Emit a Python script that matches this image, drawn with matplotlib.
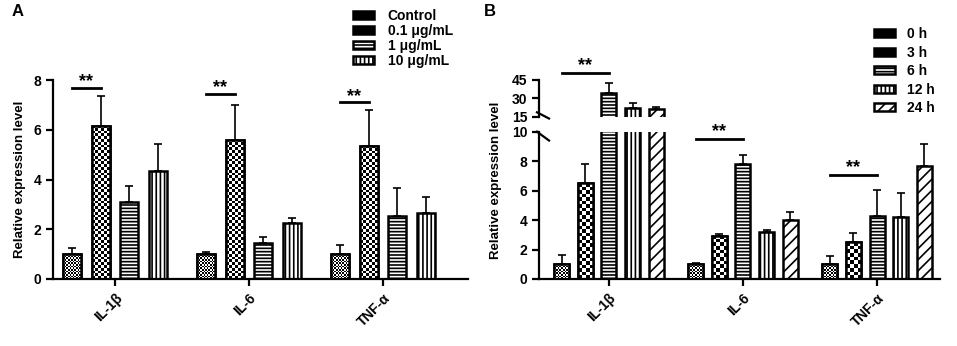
import matplotlib
matplotlib.use("Agg")
import matplotlib.pyplot as plt
import numpy as np
from matplotlib.patches import Rectangle

plt.rcParams['font.family'] = ['Liberation Sans', 'DejaVu Sans']
plt.rcParams['font.weight'] = 'bold'
plt.rcParams['hatch.linewidth'] = 1.2

genes = ["IL-1β", "IL-6", "TNF-α"]

# panel A: dose
dose_labels = ["Control", "0.1 μg/mL", "1 μg/mL", "10 μg/mL"]
dose_control = [1.0, 1.0, 1.0]
dose_01 = [6.17, 5.6, 5.36]
dose_1 = [3.11, 1.46, 2.53]
dose_10 = [4.36, 2.27, 2.67]
dose_control_err = [0.25, 0.1, 0.35]
dose_01_err = [1.18, 1.38, 1.42]
dose_1_err = [0.64, 0.22, 1.12]
dose_10_err = [1.07, 0.2, 0.64]
dose_sig_y = [7.69, 7.44, 7.1]

# panel B: time
time_labels = ["0 h", "3 h", "6 h", "12 h", "24 h"]
time_0 = [1.0, 1.0, 1.0]
time_3 = [6.5, 2.95, 2.48]
time_6 = [34.1, 7.8, 4.3]
time_12 = [21.8, 3.2, 4.2]
time_24 = [21.0, 4.0, 7.65]
time_0_err = [0.6, 0.08, 0.55]
time_3_err = [1.28, 0.13, 0.67]
time_6_err = [8.1, 0.62, 1.72]
time_12_err = [4.1, 0.13, 1.62]
time_24_err = [2.2, 0.55, 1.52]
time_sig_y = [50.4, 9.48, 7.06]

# style per series: (hatch, checker square px)
dose_styles = [(None, 1.7), (None, 2.8), ("-----", None), ("||||", None)]
time_styles = [(None, 1.7), (None, 3.5), ("-----", None), ("||||", None), ("///", None)]

W, H = 957, 346
fig = plt.figure(figsize=(W / 100, H / 100), dpi=100)


def fig_rect(x0, y0, x1, y1):
    return [x0 / W, 1 - y1 / H, (x1 - x0) / W, (y1 - y0) / H]


def draw_series(ax, xs, vals, errs, width, hatch, sq):
    bars = ax.bar(xs, vals, width, color="white", edgecolor="black", linewidth=1.8,
                  hatch=hatch, zorder=2)
    ax.errorbar(xs, vals, yerr=[np.zeros(len(vals)), errs], fmt="none", ecolor="black",
                elinewidth=1.2, capsize=3, capthick=1.2, zorder=1)
    if sq is None:
        return
    y_lo, y_hi = ax.get_ylim()
    for x, v, b in zip(xs, vals, bars):
        top = min(v, y_hi)
        (px0, py0), (px1, py1) = ax.transData.transform([(x - width / 2, 0), (x + width / 2, top)])
        nx = max(2, int(round((px1 - px0) / sq)))
        ny = max(2, int(round((py1 - py0) / sq)))
        img = np.indices((ny, nx)).sum(0) % 2
        im = ax.imshow(img, cmap="gray", extent=(x - width / 2, x + width / 2, 0, top),
                       aspect="auto", interpolation="nearest", zorder=2.1)
        im.set_clip_path(b)
    ax.bar(xs, vals, width, fill=False, edgecolor="black", linewidth=1.8, zorder=2.2)


def style_axis(ax):
    for s in ["top", "right"]:
        ax.spines[s].set_visible(False)
    for s in ["left", "bottom"]:
        ax.spines[s].set_linewidth(1.6)
    ax.tick_params(width=1.6, length=5, labelsize=10)


def legend_handles(styles):
    out = []
    for h, sq in styles:
        out.append(Rectangle((0, 0), 1, 1, facecolor="black" if sq else "white",
                             edgecolor="black", lw=1.8, hatch=h))
    return out


# ---------- Panel A ----------
axA = fig.add_axes(fig_rect(53, 80, 468, 279))
xlimA = (-0.463, 2.634)
axA.set_xlim(*xlimA)
axA.set_ylim(0, 8)
gx = np.arange(len(genes))
pitchA, widthA = 0.214, 0.134
seriesA = [(dose_control, dose_control_err), (dose_01, dose_01_err),
           (dose_1, dose_1_err), (dose_10, dose_10_err)]
for i, ((vals, errs), (hatch, sq)) in enumerate(zip(seriesA, dose_styles)):
    draw_series(axA, gx + (i - 1.5) * pitchA, vals, errs, widthA, hatch, sq)
axA.set_xlim(*xlimA)
axA.set_ylim(0, 8)
style_axis(axA)
axA.set_yticks([0, 2, 4, 6, 8])
axA.set_xticks(gx)
axA.set_xticklabels(genes, rotation=45, ha="right", rotation_mode="anchor")
axA.set_ylabel("Relative expression level", fontsize=9.5, fontweight="bold", labelpad=5)
for g, y in zip(gx, dose_sig_y):
    x0, x1 = g - 1.5 * pitchA, g - 0.5 * pitchA
    axA.plot([x0, x1], [y, y], color="black", lw=2, clip_on=False)
    axA.text((x0 + x1) / 2, y - 0.1, "**", ha="center", va="bottom", fontsize=13,
             fontweight="bold", clip_on=False)

fig.legend(legend_handles(dose_styles), dose_labels, loc="upper left",
           bbox_to_anchor=(353 / W, 1 - 9 / H), frameon=False, fontsize=10, borderpad=0,
           borderaxespad=0, handlelength=1.5, handleheight=0.5, labelspacing=0.08,
           handletextpad=1.0)
fig.text(12 / W, 1 - 12 / H, "A", fontsize=12, fontweight="bold", va="center")

# ---------- Panel B ----------
axB = fig.add_axes(fig_rect(539, 131.7, 940, 279))
axT = fig.add_axes(fig_rect(539, 80, 940, 116.7))
axT.patch.set_visible(False)
xlimB = (-0.522, 2.47)
pitchB, widthB = 0.176, 0.112
seriesB = [(time_0, time_0_err), (time_3, time_3_err), (time_6, time_6_err),
           (time_12, time_12_err), (time_24, time_24_err)]
for ax, ylim in [(axB, (0, 10)), (axT, (15, 45))]:
    ax.set_xlim(*xlimB)
    ax.set_ylim(*ylim)
    for i, ((vals, errs), (hatch, sq)) in enumerate(zip(seriesB, time_styles)):
        if ax is axT:
            sq = None
        draw_series(ax, gx + (i - 2) * pitchB, vals, errs, widthB, hatch, sq)
    ax.set_xlim(*xlimB)
    ax.set_ylim(*ylim)
    style_axis(ax)

axB.set_yticks([0, 2, 4, 6, 8, 10])
axB.set_xticks(gx)
axB.set_xticklabels(genes, rotation=45, ha="right", rotation_mode="anchor")
axT.set_yticks([15, 30, 45])
axT.spines["bottom"].set_visible(False)
axT.set_xticks([])

# break marks
axT.plot([-0.005, 0.025], [0.12, -0.05], transform=axT.transAxes, color="black",
         lw=1.6, clip_on=False)
axB.plot([-0.005, 0.025], [1.0, 0.94], transform=axB.transAxes, color="black",
         lw=1.6, clip_on=False)

for g, y, ax in zip(gx, time_sig_y, [axT, axB, axB]):
    x0, x1 = g - 2 * pitchB, g
    ax.plot([x0, x1], [y, y], color="black", lw=2, clip_on=False)
    off = 0.9 if ax is axT else 0.05
    ax.text((x0 + x1) / 2, y - off, "**", ha="center", va="bottom", fontsize=13,
            fontweight="bold", clip_on=False)

fig.legend(legend_handles(time_styles), time_labels, loc="upper left",
           bbox_to_anchor=(874 / W, 1 - 27 / H), frameon=False, fontsize=10, borderpad=0,
           borderaxespad=0, handlelength=1.5, handleheight=0.5, labelspacing=0.33,
           handletextpad=0.9)
fig.text(496 / W, 1 - 180 / H, "Relative expression level", rotation=90, fontsize=9.5,
         fontweight="bold", ha="center", va="center")
fig.text(484 / W, 1 - 11 / H, "B", fontsize=12, fontweight="bold", va="center")

fig.savefig("out.png", dpi=100)
